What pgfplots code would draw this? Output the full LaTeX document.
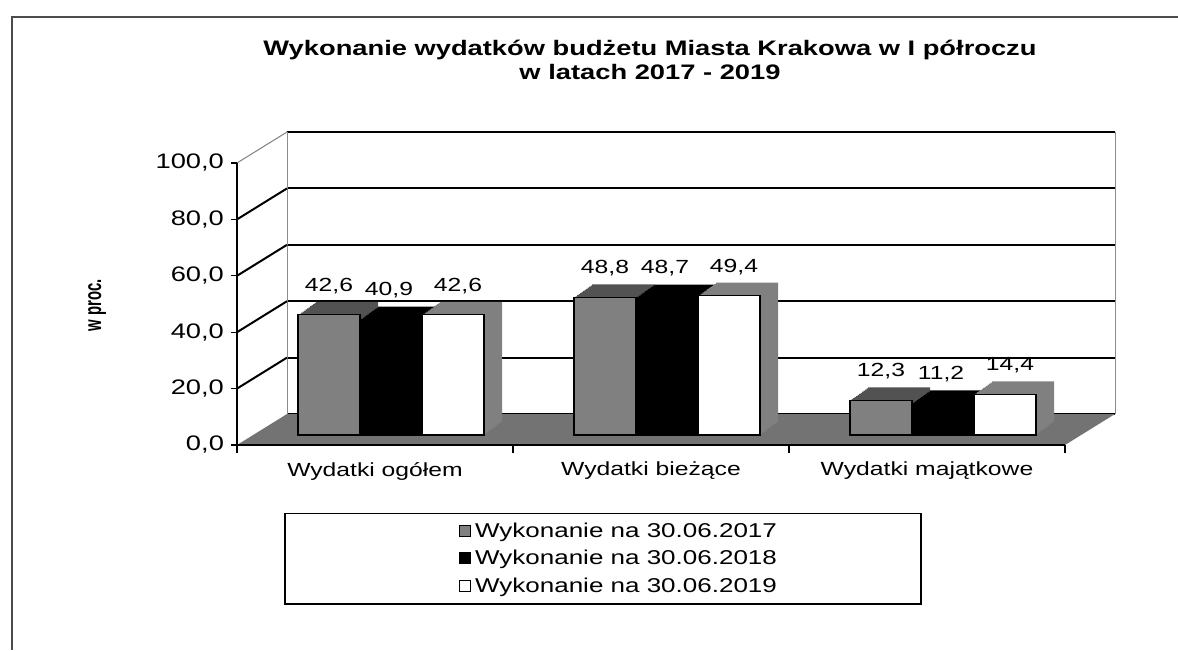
\documentclass[border=0pt]{standalone}
\usepackage{fontspec}
\setmainfont{Liberation Sans}[FakeStretch=1.3]
\newfontfamily\ylabfont{Liberation Sans}[FakeStretch=0.62]
\usepackage{pgfplots}
\usepackage{pgfplotstable}
\pgfplotsset{compat=1.18}

\pgfplotstableread{
x a b c
0 42.6 40.9 42.6
1 48.8 48.7 49.4
2 12.3 11.2 14.4
}\datatable

\pgfplotsset{/pgf/number format/assume math mode=true}

\begin{document}
\begin{tikzpicture}
\useasboundingbox (0,0) rectangle (589pt,325pt);
\draw[black!70, line width=0.6pt] (6pt,0) -- (6pt,316.5pt) -- (589pt,316.5pt);
\node[align=center, font=\bfseries\fontsize{10.5}{12}\selectfont] at (325pt,295pt)
  {Wykonanie wydatków budżetu Miasta Krakowa w I półroczu\\w latach 2017 - 2019};

% back wall
\begin{axis}[at={(143.5pt,118pt)}, anchor=south west, scale only axis,
  width=414pt, height=141pt, xmin=-0.5, xmax=2.5, ymin=0, ymax=100,
  axis x line=none, axis y line=box,
  xtick=\empty, ytick={0,20,...,100}, yticklabels={}, major tick length=0pt,
  ymajorgrids, grid style={black, line width=1pt},
  axis line style={black!45, line width=0.5pt}]
\addplot[draw=none, forget plot] coordinates {(0,0)};
\end{axis}

% front
\begin{axis}[at={(118.5pt,102.5pt)}, anchor=south west, scale only axis,
  width=414pt, height=141pt, xmin=-0.5, xmax=2.5, ymin=0, ymax=100,
  clip=false, axis on top,
  axis x line*=bottom, axis y line*=left,
  axis line style={black, line width=0.6pt},
  xtick={0,1,2}, xticklabels={Wydatki ogółem, Wydatki bieżące, Wydatki majątkowe},
  minor xtick={-0.5,0.5,1.5,2.5},
  major x tick style={draw=none},
  minor x tick style={black, line width=0.6pt},
  ytick style={black, line width=0.6pt},
  tick align=outside, major tick length=3pt, minor tick length=4pt,
  ytick={0,20,...,100},
  yticklabel style={font=\fontsize{10.5}{12}\selectfont,
    /pgf/number format/.cd, fixed, fixed zerofill, precision=1, use comma},
  xticklabel style={font=\fontsize{9.5}{11}\selectfont, yshift=-2pt},
  ylabel={w proc.},
  every axis y label/.style={at={(axis description cs:-0.169,0.496)}, anchor=center, rotate=90,
    font=\ylabfont\bfseries\fontsize{12}{14}\selectfont},
  every node near coord/.append style={font=\fontsize{9.5}{11}\selectfont, text=black, yshift=7pt},
  legend cell align=left,
  legend style={at={(axis description cs:0.442,-0.241)}, anchor=north, draw=black,
    line width=0.6pt, inner xsep=71pt, inner ysep=3.5pt, row sep=3pt, column sep=1pt,
    font=\fontsize{10}{12}\selectfont, nodes={inner sep=1pt}},
  legend image code/.code={\draw[#1,/tikz/.cd,yshift=-5pt,draw=black,line width=0.5pt] (0pt,-2.4pt) rectangle (5.5pt,3.1pt); \path (-16pt,0pt);},
]
% floor
\fill[black!55] (axis cs:-0.5,0) -- (axis cs:2.5,0) -- ([shift={(25pt,15.5pt)}]axis cs:2.5,0) -- ([shift={(25pt,15.5pt)}]axis cs:-0.5,0) -- cycle;
% side diagonals
\draw[black, line width=1pt] (axis cs:-0.5,20) -- ++(25pt,15.5pt);
\draw[black, line width=1pt] (axis cs:-0.5,40) -- ++(25pt,15.5pt);
\draw[black, line width=1pt] (axis cs:-0.5,60) -- ++(25pt,15.5pt);
\draw[black, line width=1pt] (axis cs:-0.5,80) -- ++(25pt,15.5pt);
\draw[black!50, line width=0.5pt] (axis cs:-0.5,100) -- ++(25pt,15.5pt);

% series 1
\pgfplotsinvokeforeach{1,...,12}{
  \addplot[forget plot, ybar, bar width=31pt, bar shift=-23pt, fill=black!68, draw=none,
    xshift={#1*0.75pt}, yshift={5pt+#1*0.54pt}] table[x=x,y=a]{\datatable};
}
\addplot[ybar, bar width=31pt, bar shift=-23pt, fill=black!50, draw=black, line width=0.6pt,
  yshift=5pt, every node near coord/.append style={xshift=-23pt},
  nodes near coords={\pgfmathprintnumber[fixed,fixed zerofill,precision=1,use comma]{\pgfplotspointmeta}}]
  table[x=x,y=a]{\datatable};
\addlegendentry{Wykonanie na 30.06.2017}

% series 2
\pgfplotsinvokeforeach{1,...,12}{
  \addplot[forget plot, ybar, bar width=31pt, bar shift=8pt, fill=black, draw=none,
    xshift={#1*0.75pt}, yshift={5pt+#1*0.54pt}] table[x=x,y=b]{\datatable};
}
\addplot[ybar, bar width=31pt, bar shift=8pt, fill=black, draw=black, line width=0.6pt,
  yshift=5pt, every node near coord/.append style={xshift=7pt},
  nodes near coords={\pgfmathprintnumber[fixed,fixed zerofill,precision=1,use comma]{\pgfplotspointmeta}}]
  table[x=x,y=b]{\datatable};
\addlegendentry{Wykonanie na 30.06.2018}

% series 3
\pgfplotsinvokeforeach{1,...,12}{
  \addplot[forget plot, ybar, bar width=31pt, bar shift=39pt, fill=black!50, draw=none,
    xshift={#1*0.75pt}, yshift={5pt+#1*0.54pt}] table[x=x,y=c]{\datatable};
}
\addplot[ybar, bar width=31pt, bar shift=39pt, fill=white, draw=black, line width=0.6pt,
  yshift=5pt, every node near coord/.append style={xshift=41.5pt},
  nodes near coords={\pgfmathprintnumber[fixed,fixed zerofill,precision=1,use comma]{\pgfplotspointmeta}}]
  table[x=x,y=c]{\datatable};
\addlegendentry{Wykonanie na 30.06.2019}
\end{axis}
\end{tikzpicture}
\end{document}
